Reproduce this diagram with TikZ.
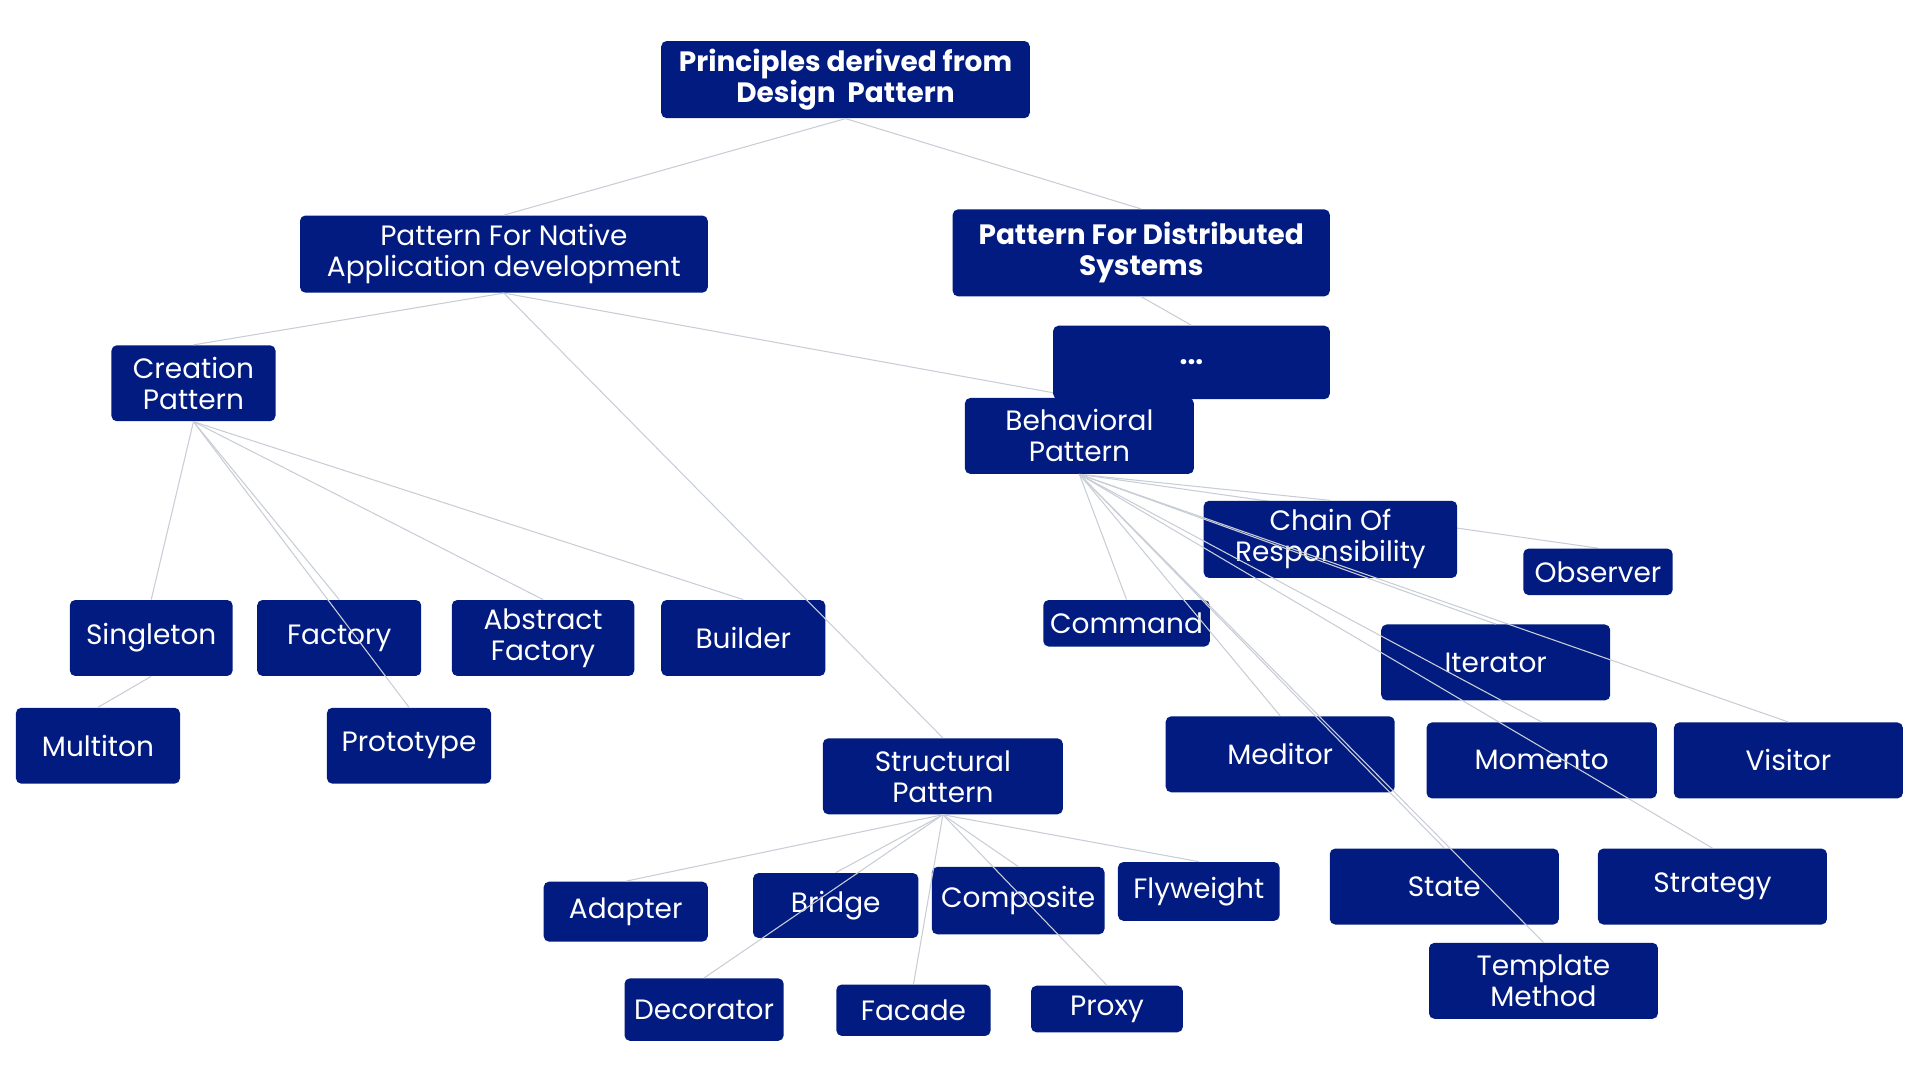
\documentclass[tikz,border=0pt]{standalone}
\usepackage{fontspec}
\setmainfont{Poppins}
\usepackage{tikz}
\usetikzlibrary{backgrounds}
\definecolor{patNavy}{HTML}{021B80}
\definecolor{linkGrey}{HTML}{C9CED6}

\begin{document}
\begin{tikzpicture}[
    font=\fontsize{13}{14.4}\selectfont,
    patbox/.style={rounded corners=2.5pt, fill=patNavy, text=white, align=center, inner sep=0pt},
    link/.style={draw=linkGrey, line width=0.5pt}
  ]
    \useasboundingbox (0,0) rectangle (31.36,-17.64);

    % top levels
    \node[patbox, minimum width=6.02cm, minimum height=1.26cm] (root) at (13.81,-1.30) {\bfseries Principles derived from\\\bfseries Design~~Pattern};
    \node[patbox, minimum width=6.66cm, minimum height=1.26cm] (native) at (8.23,-4.15) {Pattern For Native\\Application development};
    \node[patbox, minimum width=6.16cm, minimum height=1.42cm] (distrib) at (18.64,-4.13) {\bfseries Pattern For Distributed\\\bfseries Systems};
    \node[patbox, minimum width=4.52cm, minimum height=1.20cm] (dots) at (19.46,-5.92) {\bfseries ...};

    % creation branch
    \node[patbox, minimum width=2.68cm, minimum height=1.24cm] (creation) at (3.16,-6.26) {Creation\\Pattern};
    \node[patbox, minimum width=2.66cm, minimum height=1.24cm] (singleton) at (2.47,-10.42) {Singleton};
    \node[patbox, minimum width=2.68cm, minimum height=1.24cm] (factory) at (5.54,-10.42) {Factory};
    \node[patbox, minimum width=2.98cm, minimum height=1.24cm] (abstract) at (8.87,-10.42) {Abstract\\Factory};
    \node[patbox, minimum width=2.68cm, minimum height=1.24cm] (builder) at (12.14,-10.42) {Builder};
    \node[patbox, minimum width=2.68cm, minimum height=1.24cm] (multiton) at (1.60,-12.18) {Multiton};
    \node[patbox, minimum width=2.68cm, minimum height=1.24cm] (prototype) at (6.68,-12.18) {Prototype};

    % structural branch
    \node[patbox, minimum width=3.92cm, minimum height=1.24cm] (structural) at (15.40,-12.68) {Structural\\Pattern};
    \node[patbox, minimum width=2.68cm, minimum height=0.98cm] (adapter) at (10.22,-14.89) {Adapter};
    \node[patbox, minimum width=2.70cm, minimum height=1.06cm] (bridge) at (13.65,-14.79) {Bridge};
    \node[patbox, minimum width=2.82cm, minimum height=1.10cm] (composite) at (16.63,-14.71) {Composite};
    \node[patbox, minimum width=2.64cm, minimum height=0.96cm] (flyweight) at (19.58,-14.56) {Flyweight};
    \node[patbox, minimum width=2.60cm, minimum height=1.02cm] (decorator) at (11.50,-16.49) {Decorator};
    \node[patbox, minimum width=2.52cm, minimum height=0.84cm] (facade) at (14.92,-16.50) {Facade};
    \node[patbox, minimum width=2.48cm, minimum height=0.76cm] (proxy) at (18.08,-16.48) {Proxy};

    % behavioral branch
    \node[patbox, minimum width=3.74cm, minimum height=1.24cm] (behav) at (17.63,-7.12) {Behavioral\\Pattern};
    \node[patbox, minimum width=4.14cm, minimum height=1.26cm] (chain) at (21.73,-8.81) {Chain Of\\Responsibility};
    \node[patbox, minimum width=2.44cm, minimum height=0.76cm] (observer) at (26.10,-9.34) {Observer};
    \node[patbox, minimum width=2.72cm, minimum height=0.76cm] (command) at (18.40,-10.18) {Command};
    \node[patbox, minimum width=3.74cm, minimum height=1.24cm] (iterator) at (24.43,-10.82) {Iterator};
    \node[patbox, minimum width=3.74cm, minimum height=1.24cm] (meditor) at (20.91,-12.32) {Meditor};
    \node[patbox, minimum width=3.76cm, minimum height=1.24cm] (momento) at (25.18,-12.42) {Momento};
    \node[patbox, minimum width=3.74cm, minimum height=1.24cm] (visitor) at (29.21,-12.42) {Visitor};
    \node[patbox, minimum width=3.74cm, minimum height=1.24cm] (state) at (23.59,-14.48) {State};
    \node[patbox, minimum width=3.74cm, minimum height=1.24cm] (strategy) at (27.97,-14.48) {Strategy};
    \node[patbox, minimum width=3.74cm, minimum height=1.24cm] (template) at (25.21,-16.02) {Template\\Method};

    % links hidden under boxes
    \begin{scope}[on background layer]
      \draw[link] (native.south) -- (behav.north);
      \draw[link] (behav.south) -- (observer.north);
    \end{scope}

    % links
    \draw[link] (root.south) -- (native.north);
    \draw[link] (root.south) -- (distrib.north);
    \draw[link] (distrib.south) -- (dots.north);
    \draw[link] (native.south) -- (creation.north);
    \draw[link] (native.south) -- (structural.north);
    \draw[link] (creation.south) -- (singleton.north);
    \draw[link] (creation.south) -- (factory.north);
    \draw[link] (creation.south) -- (prototype.north);
    \draw[link] (creation.south) -- (abstract.north);
    \draw[link] (creation.south) -- (builder.north);
    \draw[link] (singleton.south) -- (multiton.north);
    \draw[link] (structural.south) -- (adapter.north);
    \draw[link] (structural.south) -- (bridge.north);
    \draw[link] (structural.south) -- (decorator.north);
    \draw[link] (structural.south) -- (facade.north);
    \draw[link] (structural.south) -- (composite.north);
    \draw[link] (structural.south) -- (proxy.north);
    \draw[link] (structural.south) -- (flyweight.north);
    \draw[link] (behav.south) -- (chain.north);
    \draw[link] (behav.south) -- (command.north);
    \draw[link] (behav.south) -- (iterator.north);
    \draw[link] (behav.south) -- (meditor.north);
    \draw[link] (behav.south) -- (momento.north);
    \draw[link] (behav.south) -- (visitor.north);
    \draw[link] (behav.south) -- (state.north);
    \draw[link] (behav.south) -- (strategy.north);
    \draw[link] (behav.south) -- (template.north);
  \end{tikzpicture}
\end{document}
